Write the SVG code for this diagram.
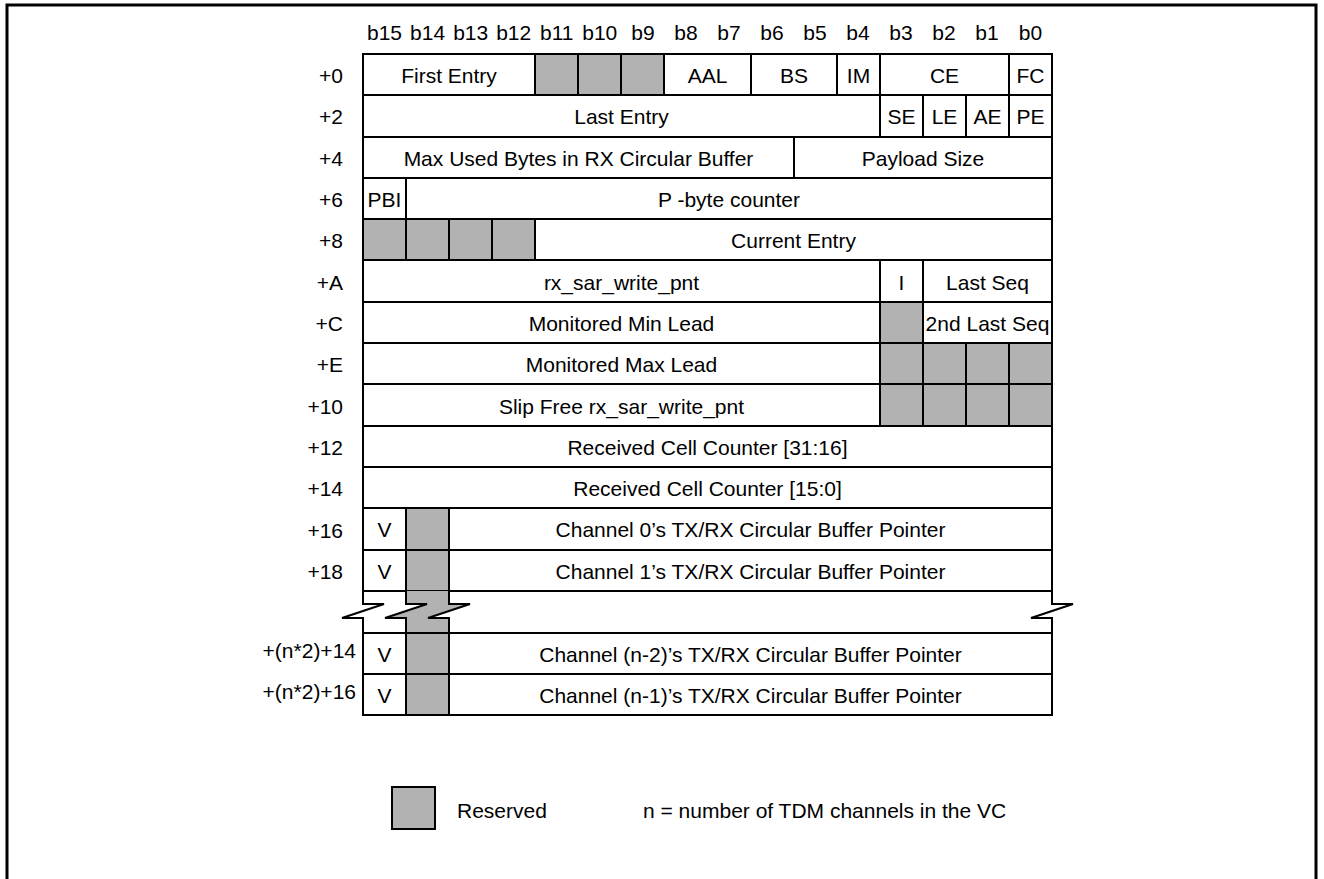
<svg xmlns="http://www.w3.org/2000/svg" width="1324" height="879" viewBox="0 0 1324 879">
<style>
text{font-family:"Liberation Sans",Arial,sans-serif;font-size:21px;fill:#000}
.c{text-anchor:middle}
.r{text-anchor:end}
.w{fill:#fff;stroke:#000;stroke-width:2}
.g{fill:#b2b2b2;stroke:#000;stroke-width:2}
.ln{fill:none;stroke:#000;stroke-width:2}
</style>
<rect x="0" y="0" width="1324" height="879" fill="#fff"/>
<path d="M7,879 V5 H1316 V879" fill="none" stroke="#000" stroke-width="3"/>
<g id="bit-header">
<text class="c" x="384.5" y="40">b15</text><text class="c" x="427.6" y="40">b14</text><text class="c" x="470.7" y="40">b13</text><text class="c" x="513.7" y="40">b12</text><text class="c" x="556.8" y="40">b11</text><text class="c" x="599.8" y="40">b10</text><text class="c" x="642.9" y="40">b9</text><text class="c" x="686" y="40">b8</text><text class="c" x="729" y="40">b7</text><text class="c" x="772" y="40">b6</text><text class="c" x="815" y="40">b5</text><text class="c" x="858" y="40">b4</text><text class="c" x="901" y="40">b3</text><text class="c" x="944" y="40">b2</text><text class="c" x="987" y="40">b1</text><text class="c" x="1030.5" y="40">b0</text>
</g>
<g id="offsets">
<text class="r" x="343" y="83">+0</text><text class="r" x="343" y="124">+2</text><text class="r" x="343" y="166">+4</text><text class="r" x="343" y="207">+6</text><text class="r" x="343" y="248">+8</text><text class="r" x="343" y="290">+A</text><text class="r" x="343" y="331">+C</text><text class="r" x="343" y="372">+E</text><text class="r" x="343" y="414">+10</text><text class="r" x="343" y="455">+12</text><text class="r" x="343" y="496">+14</text><text class="r" x="343" y="538">+16</text><text class="r" x="343" y="579">+18</text>
<text class="r" x="356" y="658">+(n*2)+14</text><text class="r" x="356" y="699">+(n*2)+16</text>
</g>
<g id="row-0">
<g id="first-entry"><rect class="w" x="363" y="54" width="172" height="41"/><text class="c" x="449" y="83">First Entry</text></g>
<g id="r0-res-b11"><rect class="g" x="535" y="54" width="43" height="41"/></g>
<g id="r0-res-b10"><rect class="g" x="578" y="54" width="43" height="41"/></g>
<g id="r0-res-b9"><rect class="g" x="621" y="54" width="43" height="41"/></g>
<g id="aal"><rect class="w" x="664" y="54" width="87" height="41"/><text class="c" x="707.5" y="83">AAL</text></g>
<g id="bs"><rect class="w" x="751" y="54" width="86" height="41"/><text class="c" x="794" y="83">BS</text></g>
<g id="im"><rect class="w" x="837" y="54" width="43" height="41"/><text class="c" x="858.5" y="83">IM</text></g>
<g id="ce"><rect class="w" x="880" y="54" width="129" height="41"/><text class="c" x="944.5" y="83">CE</text></g>
<g id="fc"><rect class="w" x="1009" y="54" width="43" height="41"/><text class="c" x="1030.5" y="83">FC</text></g>
</g>
<g id="row-2">
<g id="last-entry"><rect class="w" x="363" y="95" width="517" height="42"/><text class="c" x="621.5" y="124">Last Entry</text></g>
<g id="se"><rect class="w" x="880" y="95" width="43" height="42"/><text class="c" x="901.5" y="124">SE</text></g>
<g id="le"><rect class="w" x="923" y="95" width="43" height="42"/><text class="c" x="944.5" y="124">LE</text></g>
<g id="ae"><rect class="w" x="966" y="95" width="43" height="42"/><text class="c" x="987.5" y="124">AE</text></g>
<g id="pe"><rect class="w" x="1009" y="95" width="43" height="42"/><text class="c" x="1030.5" y="124">PE</text></g>
</g>
<g id="row-4">
<g id="max-used"><rect class="w" x="363" y="137" width="431" height="41"/><text class="c" x="578.5" y="166">Max Used Bytes in RX Circular Buffer</text></g>
<g id="payload-size"><rect class="w" x="794" y="137" width="258" height="41"/><text class="c" x="923" y="166">Payload Size</text></g>
</g>
<g id="row-6">
<g id="pbi"><rect class="w" x="363" y="178" width="43" height="41"/><text class="c" x="384.5" y="207">PBI</text></g>
<g id="p-byte-counter"><rect class="w" x="406" y="178" width="646" height="41"/><text class="c" x="729" y="207">P -byte counter</text></g>
</g>
<g id="row-8">
<g id="r8-res-b15"><rect class="g" x="363" y="219" width="43" height="41"/></g>
<g id="r8-res-b14"><rect class="g" x="406" y="219" width="43" height="41"/></g>
<g id="r8-res-b13"><rect class="g" x="449" y="219" width="43" height="41"/></g>
<g id="r8-res-b12"><rect class="g" x="492" y="219" width="43" height="41"/></g>
<g id="current-entry"><rect class="w" x="535" y="219" width="517" height="41"/><text class="c" x="793.5" y="248">Current Entry</text></g>
</g>
<g id="row-A">
<g id="rx-sar-write-pnt"><rect class="w" x="363" y="260" width="517" height="42"/><text class="c" x="621.5" y="290">rx_sar_write_pnt</text></g>
<g id="i-bit"><rect class="w" x="880" y="260" width="43" height="42"/><text class="c" x="901.5" y="290">I</text></g>
<g id="last-seq"><rect class="w" x="923" y="260" width="129" height="42"/><text class="c" x="987.5" y="290">Last Seq</text></g>
</g>
<g id="row-C">
<g id="min-lead"><rect class="w" x="363" y="302" width="517" height="41"/><text class="c" x="621.5" y="331">Monitored Min Lead</text></g>
<g id="rC-res-b3"><rect class="g" x="880" y="302" width="43" height="41"/></g>
<g id="second-last-seq"><rect class="w" x="923" y="302" width="129" height="41"/><text class="c" x="987.5" y="331">2nd Last Seq</text></g>
</g>
<g id="row-E">
<g id="max-lead"><rect class="w" x="363" y="343" width="517" height="41"/><text class="c" x="621.5" y="372">Monitored Max Lead</text></g>
<g id="rE-res"><rect class="g" x="880" y="343" width="43" height="41"/><rect class="g" x="923" y="343" width="43" height="41"/><rect class="g" x="966" y="343" width="43" height="41"/><rect class="g" x="1009" y="343" width="43" height="41"/></g>
</g>
<g id="row-10">
<g id="slip-free"><rect class="w" x="363" y="384" width="517" height="42"/><text class="c" x="621.5" y="414">Slip Free rx_sar_write_pnt</text></g>
<g id="r10-res"><rect class="g" x="880" y="384" width="43" height="42"/><rect class="g" x="923" y="384" width="43" height="42"/><rect class="g" x="966" y="384" width="43" height="42"/><rect class="g" x="1009" y="384" width="43" height="42"/></g>
</g>
<g id="row-12">
<g id="rcc-hi"><rect class="w" x="363" y="426" width="689" height="41"/><text class="c" x="707.5" y="455">Received Cell Counter [31:16]</text></g>
</g>
<g id="row-14">
<g id="rcc-lo"><rect class="w" x="363" y="467" width="689" height="41"/><text class="c" x="707.5" y="496">Received Cell Counter [15:0]</text></g>
</g>
<g id="row-16">
<g id="v-ch0"><rect class="w" x="363" y="508" width="43" height="42"/><text class="c" x="384.5" y="537">V</text></g>
<g id="res-ch0"><rect class="g" x="406" y="508" width="43" height="42"/></g>
<g id="ptr-ch0"><rect class="w" x="449" y="508" width="603" height="42"/><text class="c" x="750.5" y="537">Channel 0’s TX/RX Circular Buffer Pointer</text></g>
</g>
<g id="row-18">
<g id="v-ch1"><rect class="w" x="363" y="550" width="43" height="41"/><text class="c" x="384.5" y="579">V</text></g>
<g id="res-ch1"><rect class="g" x="406" y="550" width="43" height="41"/></g>
<g id="ptr-ch1"><rect class="w" x="449" y="550" width="603" height="41"/><text class="c" x="750.5" y="579">Channel 1’s TX/RX Circular Buffer Pointer</text></g>
</g>
<g id="break">
<polygon points="406,591 449,591 449,604 470,604 428,618 449,618 449,633 406,633 406,618 385,618 427,604 406,604" fill="#b2b2b2"/>
<path class="ln" d="M363,591 V604 H384 L342,618 H363 V633"/>
<path class="ln" d="M406,591 V604 H427 L385,618 H406 V633"/>
<path class="ln" d="M449,591 V604 H470 L428,618 H449 V633"/>
<path class="ln" d="M1052,591 V604 H1073 L1031,618 H1052 V633"/>
</g>
<g id="row-n14">
<g id="v-chn2"><rect class="w" x="363" y="633" width="43" height="41"/><text class="c" x="384.5" y="662">V</text></g>
<g id="res-chn2"><rect class="g" x="406" y="633" width="43" height="41"/></g>
<g id="ptr-chn2"><rect class="w" x="449" y="633" width="603" height="41"/><text class="c" x="750.5" y="662">Channel (n-2)’s TX/RX Circular Buffer Pointer</text></g>
</g>
<g id="row-n16">
<g id="v-chn1"><rect class="w" x="363" y="674" width="43" height="41"/><text class="c" x="384.5" y="703">V</text></g>
<g id="res-chn1"><rect class="g" x="406" y="674" width="43" height="41"/></g>
<g id="ptr-chn1"><rect class="w" x="449" y="674" width="603" height="41"/><text class="c" x="750.5" y="703">Channel (n-1)’s TX/RX Circular Buffer Pointer</text></g>
</g>
<g id="legend">
<g id="legend-reserved"><rect class="g" x="392" y="787" width="43" height="42"/><text x="457" y="818">Reserved</text></g>
<g id="legend-n"><text x="643" y="818">n = number of TDM channels in the VC</text></g>
</g>
</svg>
